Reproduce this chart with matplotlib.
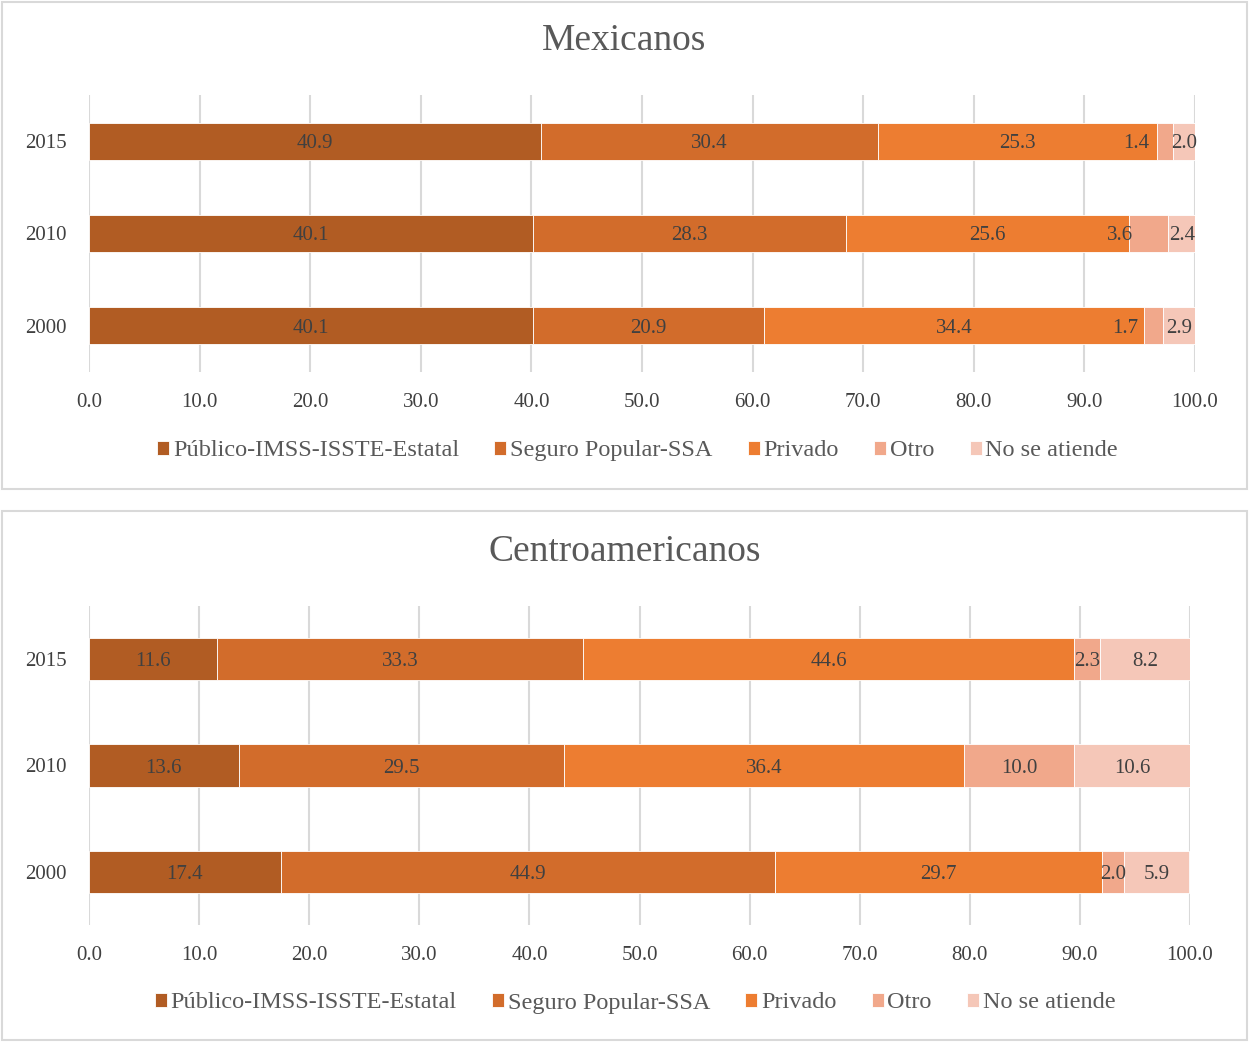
import numpy as np
import matplotlib
matplotlib.use("Agg")
import matplotlib.pyplot as plt
from matplotlib.patches import Rectangle

plt.rcParams['font.family'] = ['Liberation Serif', 'DejaVu Serif']

# Data
years = ['2000', '2010', '2015']
series = ['Público-IMSS-ISSTE-Estatal', 'Seguro Popular-SSA', 'Privado', 'Otro', 'No se atiende']
colors = ['#B15C23', '#D26C2B', '#ED7D31', '#F1A88B', '#F5C7B8']

mex_publico = [40.1, 40.1, 40.9]
mex_seguro = [20.9, 28.3, 30.4]
mex_privado = [34.4, 25.6, 25.3]
mex_otro = [1.7, 3.6, 1.4]
mex_noatiende = [2.9, 2.4, 2.0]

cen_publico = [17.4, 13.6, 11.6]
cen_seguro = [44.9, 29.5, 33.3]
cen_privado = [29.7, 36.4, 44.6]
cen_otro = [2.0, 10.0, 2.3]
cen_noatiende = [5.9, 10.6, 8.2]

W, H = 1249, 1042
fig = plt.figure(figsize=(W / 100, H / 100), dpi=100)

text_col = '#404040'
grid_col = '#D9D9D9'


def px_axes(x0, y0, x1, y1):
    # pixel box (top-left origin) -> figure axes
    return fig.add_axes([x0 / W, 1 - y1 / H, (x1 - x0) / W, (y1 - y0) / H])


def panel(box, title, title_y, ax_box, data, label_shift, legend_y):
    x0, y0, x1, y1 = box
    fig.patches.append(Rectangle((x0 / W, 1 - y1 / H), (x1 - x0) / W, (y1 - y0) / H,
                                 transform=fig.transFigure, fill=False,
                                 edgecolor=grid_col, linewidth=1.5))
    fig.text(0.5, 1 - title_y / H, title, ha='center', va='center',
             fontsize=27, color='#595959')

    ax = px_axes(*ax_box)
    y = np.arange(len(years))
    left = np.zeros(len(years))
    for i, (name, vals) in enumerate(zip(series, data)):
        vals = np.array(vals)
        ax.barh(y, vals, left=left, height=0.4, color=colors[i], label=name,
                edgecolor='white', linewidth=0.6, zorder=3)
        for j, v in enumerate(vals):
            cx = left[j] + v / 2 + label_shift[i]
            ax.text(cx, y[j] - 0.025, f'{v:.1f}', ha='center', va='center',
                    fontsize=15, color=text_col, zorder=4)
        left = left + vals

    ax.set_xlim(0, 100)
    ax.set_ylim(-0.5, 2.5)
    ax.set_xticks(np.arange(0, 101, 10))
    ax.set_xticklabels([f'{t:.1f}' for t in np.arange(0, 101, 10)])
    ax.set_yticks(y)
    ax.set_yticklabels(years)
    ax.tick_params(length=0, labelsize=15, colors=text_col)
    ax.tick_params(axis='x', pad=15)
    ax.tick_params(axis='y', pad=16)
    ax.grid(axis='x', color=grid_col, linewidth=1.5, zorder=0)
    for s in ax.spines.values():
        s.set_visible(False)

    ax.legend(loc='center', bbox_to_anchor=(0.5 - 0.004, (ax_box[3] - legend_y) / (ax_box[3] - ax_box[1])),
              ncol=5, frameon=False, fontsize=17.5, handlelength=0.5, handleheight=0.5,
              handletextpad=0.15, columnspacing=1.45, labelcolor='#595959',
              borderaxespad=0)
    return ax


panel((2, 2, 1247, 489), 'Mexicanos', 41, (89, 95, 1195, 372),
      [mex_publico, mex_seguro, mex_privado, mex_otro, mex_noatiende],
      [0, 0, 0, -2.6, 0], 451)
panel((2, 511, 1247, 1040), 'Centroamericanos', 552, (89, 606, 1190, 925),
      [cen_publico, cen_seguro, cen_privado, cen_otro, cen_noatiende],
      [0, 0, 0, 0, 0], 1003)

fig.savefig('out.png', dpi=100, facecolor='white')
